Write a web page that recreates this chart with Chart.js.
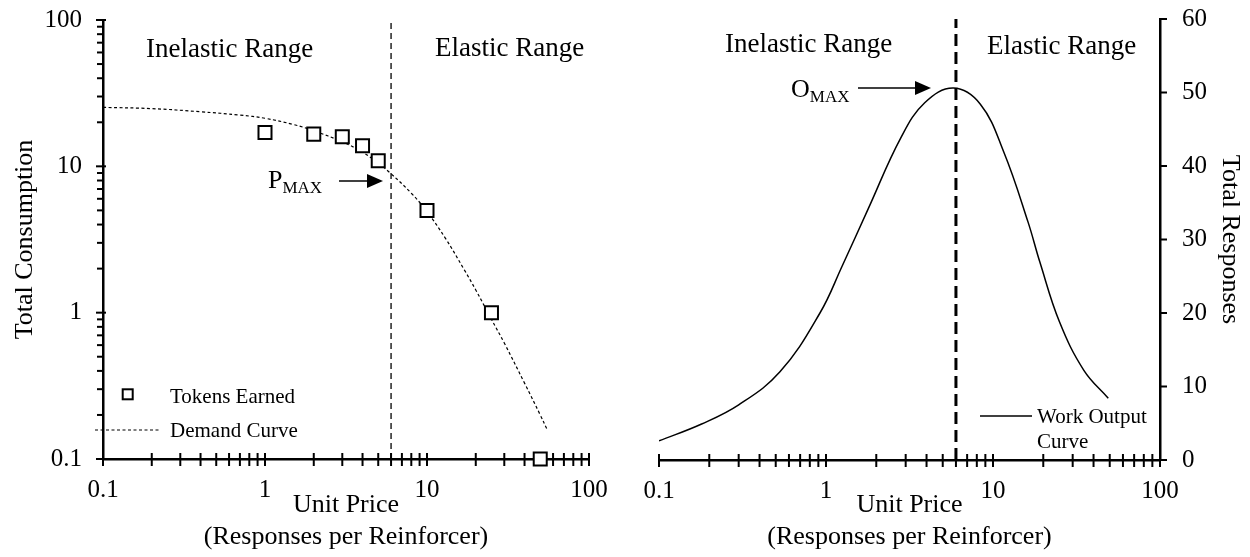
<!DOCTYPE html>
<html lang="en">
<head>
<meta charset="utf-8">
<title>Demand and work output</title>
<script src="https://cdn.jsdelivr.net/npm/chart.js@4.4.1/dist/chart.umd.min.js"></script>
<style>
    body { margin: 0; background: #fff; }
    .panel { position: absolute; top: 0; width: 625px; height: 557px; }
    #leftPanel { left: 0; }
    #rightPanel { left: 625px; }
</style>
</head>
<body>
<div class="panel" id="leftPanel"><canvas id="demandChart" width="625" height="557"></canvas></div>
<div class="panel" id="rightPanel"><canvas id="outputChart" width="625" height="557"></canvas></div>
<script>
// tokens earned at each unit price (squares)
const tokenPrices = [1, 2, 3, 4, 5, 10, 25, 50]
const tokensEarned = [17, 16.6, 15.9, 13.8, 10.9, 5, 1, 0.1]

// fitted demand curve
const demandPrices = [0.1, 0.2, 0.4, 0.7, 1, 1.5, 2, 3, 4, 5, 6, 8, 10, 13, 17, 20, 25, 30, 40, 50, 55]
const demandConsumption = [25.3, 24.8, 23.6, 22.4, 21.3, 19.3, 17.5, 14.7, 12.5, 10.5, 8.9, 6.55, 4.9, 3.22, 1.96, 1.43, 0.9, 0.62, 0.33, 0.2, 0.16]

// work output curve (right panel)
const outputPrices = [0.1, 0.18, 0.3, 0.53, 0.92, 1.25, 1.8, 2.8, 3.9, 5.8, 8.4, 11.6, 16.2, 19.1, 25, 35, 49]
const outputResponses = [2.6, 4.9, 7.5, 12, 20, 26.4, 34.3, 43.8, 48.6, 50.6, 48.4, 41.9, 32.4, 26.9, 18.8, 12.2, 8.4]

const pmaxPrice = 6
const omaxPrice = 6

// axes
const priceRange = [0.1, 100]
const priceTicks = [0.1, 0.2, 0.3, 0.4, 0.5, 0.6, 0.7, 0.8, 0.9, 1, 2, 3, 4, 5, 6, 7, 8, 9, 10, 20, 30, 40, 50, 60, 70, 80, 90, 100]
const priceMajors = [0.1, 1, 10, 100]
const priceLabels = ['0.1', '1', '10', '100']

const consumptionRange = [0.1, 100]
const consumptionTicks = [0.1, 0.2, 0.3, 0.4, 0.5, 0.6, 0.7, 0.8, 0.9, 1, 2, 3, 4, 5, 6, 7, 8, 9, 10, 20, 30, 40, 50, 60, 70, 80, 90, 100]
const consumptionMajors = [0.1, 1, 10, 100]
const consumptionLabels = ['0.1', '1', '10', '100']

const responseRange = [0, 60]
const responseTicks = [0, 10, 20, 30, 40, 50, 60]

const serif = "'Liberation Serif', 'Times New Roman', serif"

function pairs(xs, ys) {
    return xs.map(function (x, i) { return { x: x, y: ys[i] } })
}

function majorLabel(values, labels) {
    return function (value) {
        const i = values.indexOf(value)
        return i >= 0 ? labels[i] : ''
    }
}

function fixTicks(values) {
    return function (scale) {
        scale.ticks = values.map(function (v) { return { value: v } })
    }
}

// tick marks drawn across the axis lines, like the original figure
function axisTicks(axes) {
    return {
        id: 'axisTicks',
        beforeDatasetsDraw: function (chart) {
            const ctx = chart.ctx
            ctx.save()
            ctx.strokeStyle = '#000'
            ctx.lineWidth = 2
            axes.forEach(function (axis) {
                const scale = chart.scales[axis.id]
                axis.values.forEach(function (v) {
                    const major = axis.majors.indexOf(v) >= 0
                    const outer = major ? axis.majorOuter : axis.outer
                    const inner = major ? axis.majorInner : axis.inner
                    const p = scale.getPixelForValue(v)
                    ctx.beginPath()
                    if (scale.isHorizontal()) {
                        ctx.moveTo(p, scale.top - inner)
                        ctx.lineTo(p, scale.top + outer)
                    } else if (scale.position === 'left') {
                        ctx.moveTo(scale.right - outer, p)
                        ctx.lineTo(scale.right + inner, p)
                    } else {
                        ctx.moveTo(scale.left + outer, p)
                        ctx.lineTo(scale.left - inner, p)
                    }
                    ctx.stroke()
                })
            })
            ctx.restore()
        }
    }
}

function drawArrow(ctx, x0, x1, y) {
    ctx.beginPath()
    ctx.lineWidth = 1.5
    ctx.moveTo(x0, y)
    ctx.lineTo(x1 - 14, y)
    ctx.stroke()
    ctx.beginPath()
    ctx.moveTo(x1, y)
    ctx.lineTo(x1 - 16, y - 7)
    ctx.lineTo(x1 - 16, y + 7)
    ctx.closePath()
    ctx.fill()
}

// big letter with a small "MAX" subscript right after it
function drawMax(ctx, letter, x, y) {
    ctx.font = '26px ' + serif
    ctx.fillText(letter, x, y)
    const w = ctx.measureText(letter).width
    ctx.font = '17px ' + serif
    ctx.fillText('MAX', x + w, y + 5)
}

// label offset is given as an (undrawn) tick length so it does not pad the chart area
function logAxis(range, ticks, majors, labels, pos, size, gap) {
    const axis = {
        type: 'logarithmic',
        position: pos,
        min: range[0],
        max: range[1],
        afterBuildTicks: fixTicks(ticks),
        grid: { display: false, drawTicks: true, tickLength: gap },
        border: { display: true, color: '#000', width: 2.5 },
        ticks: {
            autoSkip: false,
            maxRotation: 0,
            padding: 0,
            color: '#000',
            font: { family: serif, size: 25 },
            callback: majorLabel(majors, labels)
        }
    }
    if (pos === 'bottom') {
        axis.afterFit = function (s) { s.height = size }
    } else {
        axis.afterFit = function (s) { s.width = size }
    }
    return axis
}

function priceTitle() {
    return {
        display: true,
        text: ['Unit Price', '(Responses per Reinforcer)'],
        color: '#000',
        font: { family: serif, size: 26, lineHeight: '32px' },
        padding: { top: 0, bottom: 4 }
    }
}

function graficoDemanda() {
    const xAxis = logAxis(priceRange, priceTicks, priceMajors, priceLabels, 'bottom', 98, 16)
    xAxis.title = priceTitle()
    const yAxis = logAxis(consumptionRange, consumptionTicks, consumptionMajors, consumptionLabels, 'left', 103, 21)
    yAxis.title = {
        display: true,
        text: 'Total Consumption',
        color: '#000',
        font: { family: serif, size: 26, lineHeight: '32px' },
        padding: { top: 9, bottom: 0 }
    }

    const notes = {
        id: 'demandNotes',
        afterDraw: function (chart) {
            const ctx = chart.ctx
            ctx.save()
            ctx.fillStyle = '#000'
            ctx.strokeStyle = '#000'
            ctx.textAlign = 'left'
            ctx.textBaseline = 'alphabetic'
            ctx.font = '27px ' + serif
            ctx.fillText('Inelastic Range', 146, 57)
            ctx.fillText('Elastic Range', 435, 56)
            drawMax(ctx, 'P', 268, 188)
            drawArrow(ctx, 339, 383, 181)

            // legend
            ctx.font = '21px ' + serif
            ctx.lineWidth = 2
            ctx.strokeRect(122.7, 389.3, 10, 10)
            ctx.fillText('Tokens Earned', 170, 403)
            ctx.beginPath()
            ctx.lineWidth = 1.2
            ctx.setLineDash([3, 2.5])
            ctx.moveTo(95, 430)
            ctx.lineTo(160, 430)
            ctx.stroke()
            ctx.setLineDash([])
            ctx.fillText('Demand Curve', 170, 437)
            ctx.restore()
        }
    }

    new Chart(document.getElementById('demandChart'), {
        type: 'scatter',
        data: {
            datasets: [{
                label: 'Tokens Earned',
                data: pairs(tokenPrices, tokensEarned),
                pointStyle: 'rect',
                pointRadius: 9.2,
                pointBorderWidth: 2,
                pointBorderColor: '#000',
                pointBackgroundColor: '#fff',
                clip: false
            }, {
                label: 'Demand Curve',
                data: pairs(demandPrices, demandConsumption),
                showLine: true,
                borderColor: '#000',
                borderWidth: 1.2,
                borderDash: [3, 2.5],
                tension: 0.4,
                pointRadius: 0
            }, {
                label: 'Pmax',
                data: pairs([pmaxPrice, pmaxPrice], consumptionRange),
                showLine: true,
                borderColor: '#000',
                borderWidth: 1.3,
                borderDash: [6, 4],
                pointRadius: 0
            }]
        },
        options: {
            responsive: false,
            animation: false,
            devicePixelRatio: 1,
            events: [],
            layout: { padding: { top: 20, right: 36, bottom: 0, left: 0 } },
            scales: { x: xAxis, y: yAxis },
            plugins: { legend: { display: false }, tooltip: { enabled: false } }
        },
        plugins: [axisTicks([
            { id: 'x', values: priceTicks, majors: priceMajors, outer: 7, inner: 6, majorOuter: 7, majorInner: 6 },
            { id: 'y', values: consumptionTicks, majors: consumptionMajors, outer: 6, inner: 0, majorOuter: 7, majorInner: 3 }
        ]), notes]
    })
}

function graficoTrabalho() {
    const xAxis = logAxis(priceRange, priceTicks, priceMajors, priceLabels, 'bottom', 97, 16)
    xAxis.title = priceTitle()
    const yAxis = {
        type: 'linear',
        position: 'right',
        min: responseRange[0],
        max: responseRange[1],
        afterBuildTicks: fixTicks(responseTicks),
        afterFit: function (s) { s.width = 90 },
        grid: { display: false, drawTicks: true, tickLength: 22 },
        border: { display: true, color: '#000', width: 2.5 },
        ticks: {
            padding: 0,
            color: '#000',
            font: { family: serif, size: 25 }
        },
        title: {
            display: true,
            text: 'Total Responses',
            color: '#000',
            font: { family: serif, size: 26, lineHeight: '32px' },
            padding: { top: 4, bottom: 0 }
        }
    }

    const notes = {
        id: 'outputNotes',
        afterDraw: function (chart) {
            const ctx = chart.ctx
            ctx.save()
            ctx.fillStyle = '#000'
            ctx.strokeStyle = '#000'
            ctx.textAlign = 'left'
            ctx.textBaseline = 'alphabetic'
            ctx.font = '27px ' + serif
            ctx.fillText('Inelastic Range', 100, 52)
            ctx.fillText('Elastic Range', 362, 54)
            drawMax(ctx, 'O', 166, 97)
            drawArrow(ctx, 233, 306, 88)

            // legend
            ctx.font = '21px ' + serif
            ctx.beginPath()
            ctx.lineWidth = 1.5
            ctx.moveTo(355, 416)
            ctx.lineTo(407, 416)
            ctx.stroke()
            ctx.fillText('Work Output', 412, 423)
            ctx.fillText('Curve', 412, 448)
            ctx.restore()
        }
    }

    new Chart(document.getElementById('outputChart'), {
        type: 'scatter',
        data: {
            datasets: [{
                label: 'Work Output Curve',
                data: pairs(outputPrices, outputResponses),
                showLine: true,
                borderColor: '#000',
                borderWidth: 1.5,
                tension: 0.4,
                pointRadius: 0
            }, {
                label: 'Omax',
                data: pairs([omaxPrice, omaxPrice], responseRange),
                showLine: true,
                borderColor: '#000',
                borderWidth: 3,
                borderDash: [12, 6],
                pointRadius: 0
            }]
        },
        options: {
            responsive: false,
            animation: false,
            devicePixelRatio: 1,
            events: [],
            layout: { padding: { top: 19, right: 0, bottom: 0, left: 34 } },
            scales: { x: xAxis, y: yAxis },
            plugins: { legend: { display: false }, tooltip: { enabled: false } }
        },
        plugins: [axisTicks([
            { id: 'x', values: priceTicks, majors: priceMajors, outer: 7, inner: 6, majorOuter: 7, majorInner: 6 },
            { id: 'y', values: responseTicks, majors: [], outer: 7, inner: 0, majorOuter: 7, majorInner: 0 }
        ]), notes]
    })
}

graficoDemanda()
graficoTrabalho()
</script>
</body>
</html>
